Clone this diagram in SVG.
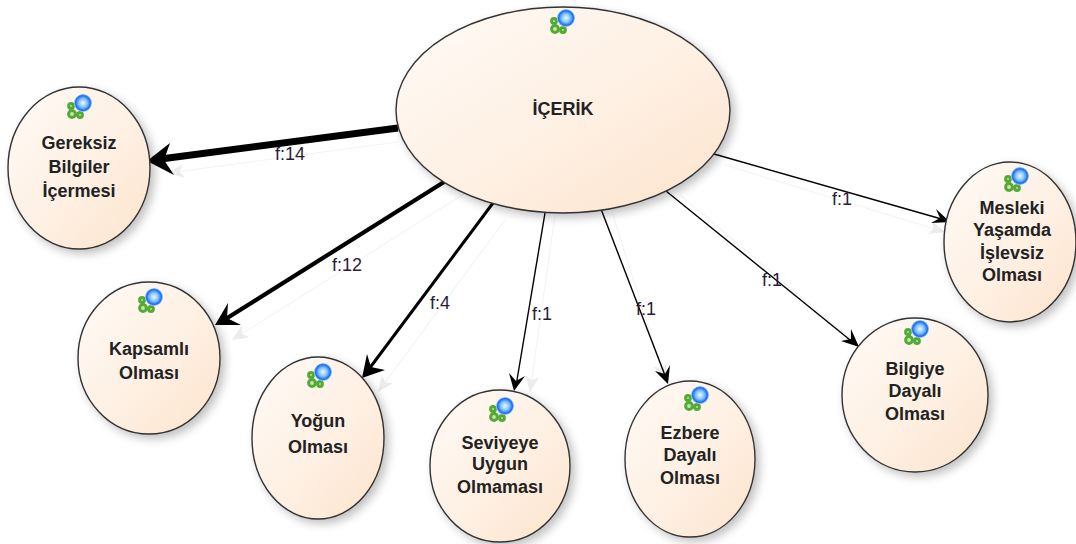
<svg xmlns="http://www.w3.org/2000/svg" width="1076" height="544" viewBox="0 0 1076 544">
<defs>
<linearGradient id="g" x1="0" y1="0" x2="1" y2="1"><stop offset="0" stop-color="#fffaf6"/><stop offset="0.55" stop-color="#fef0e3"/><stop offset="1" stop-color="#fde3cb"/></linearGradient>
<radialGradient id="b" cx="0.5" cy="0.5" r="0.5"><stop offset="0" stop-color="#eef9ff"/><stop offset="0.5" stop-color="#7cc0ff"/><stop offset="0.82" stop-color="#1a6cf0"/><stop offset="1" stop-color="#a8d0ff"/></radialGradient>
<filter id="s" x="-15%" y="-15%" width="135%" height="135%"><feGaussianBlur in="SourceAlpha" stdDeviation="5"/><feOffset dx="4" dy="4"/><feComponentTransfer><feFuncA type="linear" slope="0.25"/></feComponentTransfer><feMerge><feMergeNode/><feMergeNode in="SourceGraphic"/></feMerge></filter>
<g id="icon">
<g fill="#c4e8ac" stroke="#55aa35" stroke-width="3"><circle cx="-6" cy="-5" r="2.4"/><circle cx="-5" cy="3" r="3.4"/><circle cx="3" cy="4" r="2.4"/></g>
<circle cx="6" cy="-8" r="9" fill="url(#b)"/>
</g>
<marker id="l" markerUnits="userSpaceOnUse" markerWidth="18" markerHeight="18" refX="16" refY="9" orient="auto" viewBox="0 0 18 18"><path d="M0 2 L16 9 L0 16 L4 9 Z" fill="#ececec"/></marker>
</defs>
<style>
.n{fill:url(#g);stroke:#333;stroke-width:1.4;filter:url(#s)}
text{font-family:"Liberation Sans",Arial,sans-serif;text-anchor:middle}
.t{font-size:18px;font-weight:bold;fill:#222}
.e{font-size:18px;fill:#2c1a3a}
.c{fill:none;stroke:#000}
.g{fill:none;stroke:#f4f4f4;stroke-width:1.2;marker-end:url(#l)}
</style>
<g id="connectors">
<path class="g" d="M398 142 L168 173"/>
<path class="g" d="M470 190 L232 340"/>
<path class="g" d="M505 220 L378 392"/>
<path class="g" d="M555 215 L530 392"/>
<path class="g" d="M612 212 L665 380"/>
<path class="g" d="M680 195 L858 345"/>
<path class="g" d="M725 165 L945 232"/>
<path class="c" stroke-width="7" d="M398 128 L153 160"/>
<path d="M147 161 L170 143 L164 160 L174 175 Z" fill="#000"/>
<path class="c" stroke-width="4.2" d="M444 182 L224 320"/>
<path d="M215 325 L228 303 L227 318 L241 325 Z" fill="#000"/>
<path class="c" stroke-width="3" d="M493 203 L369 369"/>
<path d="M362 378 L367 354 L371 367 L385 370 Z" fill="#000"/>
<path class="c" stroke-width="1.4" d="M545 213 L516 386"/>
<path d="M514 391 L509 373 L516 381 L525 376 Z" fill="#000"/>
<path class="c" stroke-width="1.4" d="M601 209 L666 378"/>
<path d="M668 384 L655 371 L665 374 L670 365 Z" fill="#000"/>
<path class="c" stroke-width="1.4" d="M666 191 L855 344"/>
<path d="M859 347 L841 341 L851 339 L851 329 Z" fill="#000"/>
<path class="c" stroke-width="1.4" d="M714 154 L945 220"/>
<path d="M950 222 L931 223 L940 218 L936 209 Z" fill="#000"/>
<text class="e" x="290" y="160">f:14</text>
<text class="e" x="347" y="271">f:12</text>
<text class="e" x="440" y="309">f:4</text>
<text class="e" x="542" y="320">f:1</text>
<text class="e" x="646" y="315">f:1</text>
<text class="e" x="772" y="286">f:1</text>
<text class="e" x="842" y="205">f:1</text>
</g>
<g id="n-icerik"><ellipse class="n" cx="563" cy="110" rx="167" ry="103"/><use href="#icon" x="560" y="26"/><text class="t" x="563" y="115">İÇERİK</text></g>
<g id="n-gereksiz"><ellipse class="n" cx="79" cy="168" rx="71" ry="81"/><use href="#icon" x="77" y="111"/><text class="t" x="79" y="149">Gereksiz</text><text class="t" x="79" y="173">Bilgiler</text><text class="t" x="79" y="197">İçermesi</text></g>
<g id="n-kapsamli"><ellipse class="n" cx="149" cy="358" rx="71" ry="76"/><use href="#icon" x="148" y="305"/><text class="t" x="149" y="355">Kapsamlı</text><text class="t" x="149" y="379">Olması</text></g>
<g id="n-yogun"><ellipse class="n" cx="318" cy="438" rx="66" ry="81"/><use href="#icon" x="317" y="380"/><text class="t" x="318" y="427">Yoğun</text><text class="t" x="318" y="453">Olması</text></g>
<g id="n-seviye"><ellipse class="n" cx="500" cy="466" rx="70" ry="76"/><use href="#icon" x="499" y="414"/><text class="t" x="500" y="449">Seviyeye</text><text class="t" x="500" y="470">Uygun</text><text class="t" x="500" y="493">Olmaması</text></g>
<g id="n-ezbere"><ellipse class="n" cx="690" cy="459" rx="65" ry="78"/><use href="#icon" x="694" y="403"/><text class="t" x="690" y="439">Ezbere</text><text class="t" x="690" y="461">Dayalı</text><text class="t" x="690" y="484">Olması</text></g>
<g id="n-bilgiye"><ellipse class="n" cx="915" cy="395" rx="73" ry="77"/><use href="#icon" x="914" y="337"/><text class="t" x="915" y="375">Bilgiye</text><text class="t" x="915" y="397">Dayalı</text><text class="t" x="915" y="420">Olması</text></g>
<g id="n-mesleki"><ellipse class="n" cx="1010" cy="242" rx="66" ry="80"/><use href="#icon" x="1014" y="184"/><text class="t" x="1012" y="214">Mesleki</text><text class="t" x="1012" y="236">Yaşamda</text><text class="t" x="1012" y="259">İşlevsiz</text><text class="t" x="1012" y="281">Olması</text></g>
</svg>
